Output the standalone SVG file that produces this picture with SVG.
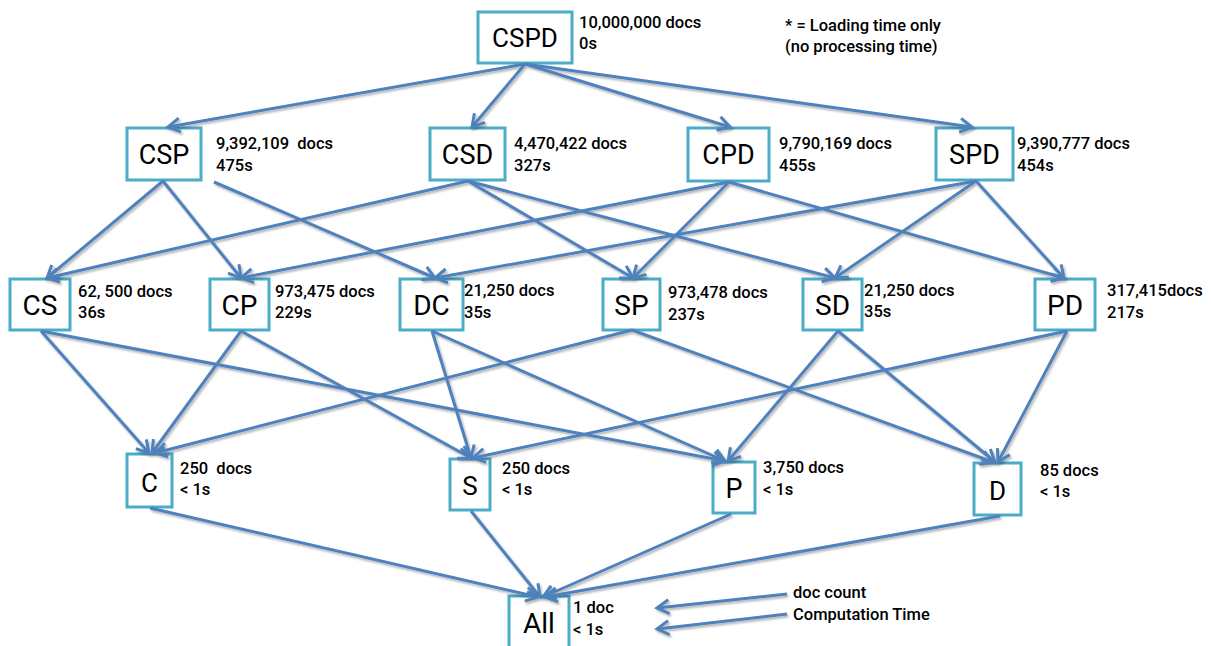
<svg xmlns="http://www.w3.org/2000/svg" width="1211" height="646" viewBox="0 0 1211 646">
<style>
.box{fill:#fff;stroke:#4BACC6;stroke-width:3}
.nt{font-family:Roboto,"Liberation Sans",sans-serif;fill:#000;text-anchor:middle}
.lb{font-family:Roboto,"Liberation Sans",sans-serif;font-size:16.5px;font-weight:500;fill:#000;white-space:pre}
.e{stroke:#4F81BD;stroke-width:3;fill:none;marker-end:url(#ah)}
</style>
<defs>
<marker id="ah" markerUnits="userSpaceOnUse" viewBox="-16 -10 20 20" markerWidth="20" markerHeight="20" refX="0" refY="0" orient="auto">
<path d="M-12,-7 L0,0 L-12,7" fill="none" stroke="#4F81BD" stroke-width="3" stroke-linejoin="miter"/>
</marker>
<filter id="sh" x="-5%" y="-5%" width="110%" height="110%">
<feDropShadow dx="1.5" dy="2" stdDeviation="1.2" flood-color="#000" flood-opacity="0.3"/>
</filter>
</defs>
<rect width="1211" height="646" fill="#fff"/>

<g id="nodes">
<g id="CSPD"><rect class="box" x="478" y="12" width="94" height="51"/><text class="nt" x="525" y="47" font-size="26">CSPD</text>
<text class="lb" x="579" y="28">10,000,000 docs</text><text class="lb" x="579" y="49">0s</text></g>
<g id="CSP"><rect class="box" x="127" y="128" width="74" height="52"/><text class="nt" x="164" y="164" font-size="27">CSP</text>
<text class="lb" x="216" y="149" xml:space="preserve">9,392,109  docs</text><text class="lb" x="216" y="171">475s</text></g>
<g id="CSD"><rect class="box" x="430" y="128" width="75" height="52"/><text class="nt" x="467.5" y="164" font-size="27">CSD</text>
<text class="lb" x="514" y="149">4,470,422 docs</text><text class="lb" x="514" y="171">327s</text></g>
<g id="CPD"><rect class="box" x="688" y="128" width="81" height="53"/><text class="nt" x="728.5" y="164" font-size="27">CPD</text>
<text class="lb" x="779" y="149">9,790,169 docs</text><text class="lb" x="779" y="171">455s</text></g>
<g id="SPD"><rect class="box" x="936" y="128" width="77" height="52"/><text class="nt" x="974.5" y="164" font-size="27">SPD</text>
<text class="lb" x="1017" y="149">9,390,777 docs</text><text class="lb" x="1017" y="171">454s</text></g>

<g id="CS"><rect class="box" x="10" y="279" width="60" height="51"/><text class="nt" x="40" y="315" font-size="28">CS</text>
<text class="lb" x="78" y="297">62, 500 docs</text><text class="lb" x="78" y="318">36s</text></g>
<g id="CP"><rect class="box" x="210" y="279" width="59" height="51"/><text class="nt" x="239.5" y="315" font-size="28">CP</text>
<text class="lb" x="275" y="297">973,475 docs</text><text class="lb" x="275" y="318">229s</text></g>
<g id="DC"><rect class="box" x="400" y="279" width="63" height="51"/><text class="nt" x="431.5" y="315" font-size="28">DC</text>
<text class="lb" x="464" y="296">21,250 docs</text><text class="lb" x="464" y="318">35s</text></g>
<g id="SP"><rect class="box" x="603" y="279" width="57" height="51"/><text class="nt" x="631.5" y="315" font-size="28">SP</text>
<text class="lb" x="668" y="298">973,478 docs</text><text class="lb" x="668" y="320">237s</text></g>
<g id="SD"><rect class="box" x="803" y="279" width="59" height="51"/><text class="nt" x="832.5" y="315" font-size="28">SD</text>
<text class="lb" x="864" y="296">21,250 docs</text><text class="lb" x="864" y="317">35s</text></g>
<g id="PD"><rect class="box" x="1035" y="279" width="60" height="51"/><text class="nt" x="1065" y="315" font-size="28">PD</text>
<text class="lb" x="1107" y="296">317,415docs</text><text class="lb" x="1107" y="318">217s</text></g>

<g id="C"><rect class="box" x="127" y="454" width="45" height="53"/><text class="nt" x="149.5" y="492" font-size="26">C</text>
<text class="lb" x="180" y="474" xml:space="preserve">250  docs</text><text class="lb" x="180" y="495">&lt; 1s</text></g>
<g id="S"><rect class="box" x="450" y="459" width="40" height="51"/><text class="nt" x="470" y="495" font-size="26">S</text>
<text class="lb" x="502" y="474">250 docs</text><text class="lb" x="502" y="495">&lt; 1s</text></g>
<g id="P"><rect class="box" x="713" y="462" width="42" height="51"/><text class="nt" x="734" y="498" font-size="27">P</text>
<text class="lb" x="763" y="473">3,750 docs</text><text class="lb" x="763" y="495">&lt; 1s</text></g>
<g id="D"><rect class="box" x="974" y="463" width="47" height="52"/><text class="nt" x="997.5" y="500" font-size="26">D</text>
<text class="lb" x="1040" y="476">85 docs</text><text class="lb" x="1040" y="497">&lt; 1s</text></g>

<g id="All"><rect class="box" x="509" y="596" width="60" height="62"/><text class="nt" x="539" y="633" font-size="28">All</text>
<text class="lb" x="573" y="613">1 doc</text><text class="lb" x="573" y="635">&lt; 1s</text></g>

<g id="legend">
<text class="lb" x="785" y="31">* = Loading time only</text>
<text class="lb" x="785" y="52">(no processing time)</text>
<text class="lb" x="793" y="598">doc count</text>
<text class="lb" x="793" y="620">Computation Time</text>
</g>
</g>

<g id="connectors" filter="url(#sh)">
<line class="e" x1="525" y1="64" x2="168" y2="127"/>
<line class="e" x1="525" y1="64" x2="472" y2="127"/>
<line class="e" x1="525" y1="64" x2="730" y2="127"/>
<line class="e" x1="525" y1="64" x2="972" y2="127"/>

<line class="e" x1="163" y1="181" x2="47" y2="278"/>
<line class="e" x1="163" y1="181" x2="241" y2="278"/>
<line class="e" x1="214" y1="182" x2="435" y2="278"/>
<line class="e" x1="468" y1="181" x2="47" y2="278"/>
<line class="e" x1="468" y1="181" x2="633" y2="278"/>
<line class="e" x1="468" y1="181" x2="835" y2="278"/>
<line class="e" x1="729" y1="182" x2="241" y2="278"/>
<line class="e" x1="729" y1="182" x2="633" y2="278"/>
<line class="e" x1="729" y1="182" x2="1064" y2="278"/>
<line class="e" x1="976" y1="181" x2="435" y2="278"/>
<line class="e" x1="976" y1="181" x2="835" y2="278"/>
<line class="e" x1="976" y1="181" x2="1064" y2="278"/>

<line class="e" x1="41" y1="331" x2="149" y2="453"/>
<line class="e" x1="41" y1="331" x2="725" y2="461"/>
<line class="e" x1="241" y1="331" x2="152" y2="453"/>
<line class="e" x1="241" y1="331" x2="471" y2="458"/>
<line class="e" x1="432" y1="331" x2="471" y2="458"/>
<line class="e" x1="432" y1="331" x2="725" y2="461"/>
<line class="e" x1="632" y1="330" x2="155" y2="453"/>
<line class="e" x1="632" y1="330" x2="993" y2="462"/>
<line class="e" x1="838" y1="331" x2="728" y2="461"/>
<line class="e" x1="838" y1="331" x2="995" y2="462"/>
<line class="e" x1="1067" y1="331" x2="473" y2="458"/>
<line class="e" x1="1067" y1="331" x2="998" y2="462"/>

<line class="e" x1="150" y1="508" x2="538" y2="597"/>
<line class="e" x1="471" y1="511" x2="540" y2="597"/>
<line class="e" x1="731" y1="514" x2="543" y2="597"/>
<line class="e" x1="1000" y1="516" x2="545" y2="597"/>

<line class="e" x1="787" y1="594" x2="657" y2="608"/>
<line class="e" x1="787" y1="614" x2="657" y2="629"/>
</g>
</svg>
